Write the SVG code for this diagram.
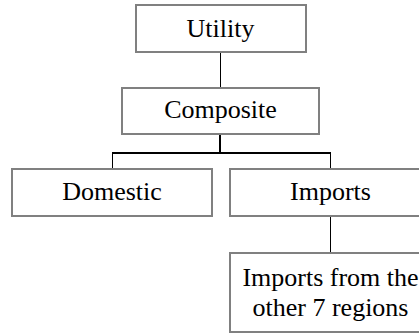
<svg xmlns="http://www.w3.org/2000/svg" width="419" height="334" viewBox="0 0 419 334">
<style>
.box{fill:#fff;stroke:#808080;stroke-width:2}
.t{font-family:"Liberation Serif","Times New Roman",serif;font-size:26px;fill:#000;text-anchor:middle}
.c{stroke:#000;fill:none}
</style>
<rect width="419" height="334" fill="#fff"/>
<g id="connectors">
<line class="c" x1="220.5" y1="53" x2="220.5" y2="87" stroke-width="1"/>
<line class="c" x1="220" y1="135" x2="220" y2="153" stroke-width="2"/>
<line class="c" x1="112" y1="153" x2="331" y2="153" stroke-width="2"/>
<line class="c" x1="112.5" y1="153" x2="112.5" y2="169" stroke-width="1"/>
<line class="c" x1="330.5" y1="153" x2="330.5" y2="169" stroke-width="1"/>
<line class="c" x1="330.5" y1="217" x2="330.5" y2="253" stroke-width="1"/>
</g>
<g id="utility">
<rect class="box" x="136" y="5" width="170" height="47"/>
<text class="t" x="220.5" y="37">Utility</text>
</g>
<g id="composite">
<rect class="box" x="122" y="88" width="197" height="46"/>
<text class="t" x="220.5" y="118">Composite</text>
</g>
<g id="domestic">
<rect class="box" x="12" y="169" width="200" height="47"/>
<text class="t" x="112" y="200">Domestic</text>
</g>
<g id="imports">
<rect class="box" x="230" y="169" width="200" height="47"/>
<text class="t" x="330.5" y="200">Imports</text>
</g>
<g id="imports-other">
<rect class="box" x="230" y="253" width="200" height="79"/>
<text class="t" x="330.5" y="286">Imports from the</text>
<text class="t" x="330.5" y="316">other 7 regions</text>
</g>
</svg>
